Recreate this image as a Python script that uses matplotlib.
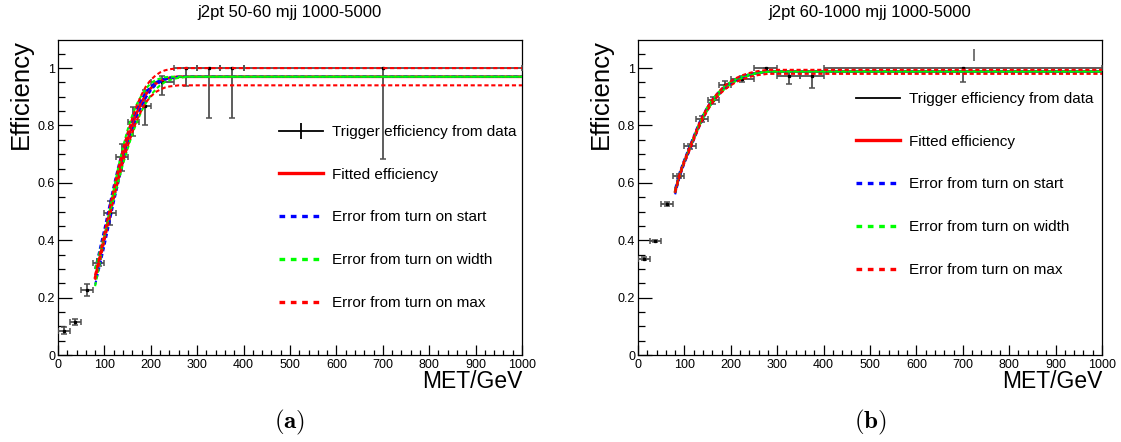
import matplotlib
matplotlib.use("Agg")
import matplotlib.pyplot as plt
from matplotlib.lines import Line2D
from matplotlib.ticker import MultipleLocator, FixedLocator, FixedFormatter

plt.rcParams['font.family'] = ['Liberation Sans', 'DejaVu Sans']

W, H = 1121, 442

# ---------------- data: j2pt 50-60 ----------------
titles = ["j2pt 50-60 mjj 1000-5000", "j2pt 60-1000 mjj 1000-5000"]
panel_tags = [r"$\mathbf{(a)}$", r"$\mathbf{(b)}$"]

met_centres = [12.5, 37.5, 62.5, 87.5, 112.5, 137.5, 162.5, 187.5, 225, 275, 325, 375, 700]
met_halfwidth = [12.5, 12.5, 12.5, 12.5, 12.5, 12.5, 12.5, 12.5, 25, 25, 25, 25, 300]

eff_a = [0.085, 0.115, 0.228, 0.322, 0.495, 0.689, 0.813, 0.868, 0.952, 1.0, 1.0, 1.0, 1.0]
err_lo_a = [0.012, 0.012, 0.021, 0.012, 0.041, 0.047, 0.050, 0.067, 0.046, 0.062, 0.175, 0.175, 0.317]
err_hi_a = [0.012, 0.012, 0.021, 0.012, 0.041, 0.047, 0.050, 0.055, 0.021, 0.0, 0.0, 0.0, 0.0]

fit_x_a = [80, 90, 100, 110, 120, 130, 140, 150, 160, 170, 180, 190, 200, 210,
           220, 230, 240, 250, 260, 270, 280, 1000]
fit_a = [0.27, 0.34, 0.41, 0.485, 0.56, 0.63, 0.695, 0.75, 0.80, 0.845, 0.88, 0.91,
         0.93, 0.945, 0.955, 0.962, 0.966, 0.968, 0.97, 0.97, 0.97, 0.97]
start_hi_a = [0.30, 0.37, 0.44, 0.515, 0.59, 0.658, 0.718, 0.772, 0.82, 0.86, 0.893, 0.918,
              0.936, 0.95, 0.958, 0.964, 0.967, 0.969, 0.97, 0.97, 0.97, 0.97]
start_lo_a = [0.245, 0.31, 0.38, 0.455, 0.53, 0.60, 0.67, 0.73, 0.78, 0.83, 0.866, 0.898,
              0.922, 0.94, 0.951, 0.959, 0.964, 0.967, 0.969, 0.97, 0.97, 0.97]
width_hi_a = [0.24, 0.32, 0.405, 0.49, 0.575, 0.655, 0.725, 0.785, 0.835, 0.875, 0.905, 0.93,
              0.947, 0.958, 0.964, 0.968, 0.97, 0.97, 0.97, 0.97, 0.97, 0.97]
width_lo_a = [0.30, 0.36, 0.42, 0.483, 0.545, 0.605, 0.665, 0.718, 0.77, 0.812, 0.85, 0.88,
              0.905, 0.925, 0.94, 0.951, 0.958, 0.963, 0.966, 0.968, 0.97, 0.97]
max_hi_a = [0.278, 0.351, 0.423, 0.50, 0.577, 0.65, 0.717, 0.773, 0.825, 0.871, 0.907, 0.938,
            0.959, 0.974, 0.985, 0.992, 0.996, 0.998, 1.0, 1.0, 1.0, 1.0]
max_lo_a = [0.262, 0.329, 0.397, 0.47, 0.543, 0.61, 0.673, 0.727, 0.775, 0.819, 0.853, 0.882,
            0.901, 0.916, 0.925, 0.932, 0.936, 0.938, 0.94, 0.94, 0.94, 0.94]

# ---------------- data: j2pt 60-1000 ----------------
eff_b = [0.336, 0.398, 0.526, 0.624, 0.727, 0.823, 0.888, 0.942, 0.962, 1.0, 0.971, 0.971, 1.0]
err_lo_b = [0.005, 0.004, 0.006, 0.008, 0.010, 0.010, 0.012, 0.012, 0.012, 0.010, 0.028, 0.040, 0.050]
err_hi_b = [0.005, 0.004, 0.006, 0.008, 0.010, 0.010, 0.012, 0.012, 0.012, 0.0, 0.017, 0.017, 0.0]
extra_x_b = [725]
extra_y_b = [1.046]
extra_err_b = [0.022]

fit_x_b = [80, 90, 100, 110, 120, 130, 140, 150, 160, 170, 180, 190, 200, 210,
           220, 230, 240, 250, 260, 270, 280, 290, 1000]
fit_b = [0.57, 0.63, 0.675, 0.715, 0.755, 0.795, 0.83, 0.86, 0.885, 0.905, 0.922, 0.937,
         0.948, 0.958, 0.966, 0.972, 0.977, 0.981, 0.984, 0.986, 0.988, 0.988, 0.988]
start_hi_b = [0.58, 0.638, 0.682, 0.723, 0.763, 0.803, 0.837, 0.866, 0.89, 0.91, 0.926, 0.94,
              0.951, 0.961, 0.968, 0.974, 0.978, 0.982, 0.985, 0.987, 0.988, 0.988, 0.988]
start_lo_b = [0.56, 0.622, 0.668, 0.708, 0.748, 0.788, 0.823, 0.854, 0.88, 0.90, 0.918, 0.934,
              0.945, 0.955, 0.964, 0.970, 0.975, 0.98, 0.983, 0.985, 0.987, 0.988, 0.988]
width_hi_b = [0.565, 0.627, 0.673, 0.715, 0.757, 0.798, 0.834, 0.865, 0.89, 0.91, 0.927, 0.941,
              0.952, 0.961, 0.968, 0.974, 0.978, 0.982, 0.985, 0.987, 0.988, 0.988, 0.988]
width_lo_b = [0.575, 0.633, 0.677, 0.716, 0.754, 0.792, 0.826, 0.855, 0.88, 0.90, 0.917, 0.932,
              0.944, 0.954, 0.962, 0.969, 0.974, 0.979, 0.982, 0.985, 0.987, 0.988, 0.988]
max_hi_b = [0.574, 0.634, 0.679, 0.719, 0.76, 0.80, 0.835, 0.865, 0.89, 0.91, 0.928, 0.943,
            0.954, 0.964, 0.972, 0.978, 0.983, 0.987, 0.99, 0.992, 0.994, 0.994, 0.994]
max_lo_b = [0.565, 0.625, 0.67, 0.709, 0.749, 0.789, 0.823, 0.853, 0.878, 0.898, 0.915, 0.929,
            0.94, 0.95, 0.958, 0.964, 0.969, 0.973, 0.976, 0.978, 0.98, 0.98, 0.98]

ytick_vals = [0, 0.2, 0.4, 0.6, 0.8, 1.0]
ytick_labels = ["0", "0.2", "0.4", "0.6", "0.8", "1"]
xtick_vals = list(range(0, 1001, 100))
legend_labels = ["Trigger efficiency from data", "Fitted efficiency",
                 "Error from turn on start", "Error from turn on width",
                 "Error from turn on max"]

RED, BLUE, GREEN = "#ff0000", "#0000ff", "#00ff00"
DATA_COL = "#505050"


def fx(px):
    return px / W


def fy(py):
    return 1 - py / H


fig = plt.figure(figsize=(W / 100, H / 100), dpi=100)

panels = [
    dict(left=58, eff=eff_a, lo=err_lo_a, hi=err_hi_a, fx_=fit_x_a, fit=fit_a,
         start=(start_hi_a, start_lo_a), width=(width_hi_a, width_lo_a),
         mx=(max_hi_a, max_lo_a), leg=(279, 130), cross=True),
    dict(left=638, eff=eff_b, lo=err_lo_b, hi=err_hi_b, fx_=fit_x_b, fit=fit_b,
         start=(start_hi_b, start_lo_b), width=(width_hi_b, width_lo_b),
         mx=(max_hi_b, max_lo_b), leg=(856, 97), cross=False),
]

ax_top, ax_bot, ax_w = 40, 355, 464
for i, p in enumerate(panels):
    ax = fig.add_axes([fx(p["left"]), fy(ax_bot), ax_w / W, (ax_bot - ax_top) / H])
    ax.set_xlim(0, 1000)
    ax.set_ylim(0, 1.098)

    # measured efficiency with asymmetric errors
    ax.errorbar(met_centres, p["eff"], xerr=met_halfwidth, yerr=[p["lo"], p["hi"]],
                fmt="s", ms=1.4, mfc="black", mec="black", ecolor=DATA_COL,
                elinewidth=1.3, capsize=2.2, capthick=1.1, zorder=3)
    if i == 1:
        ax.errorbar(extra_x_b, extra_y_b, yerr=extra_err_b, fmt="none",
                    ecolor=DATA_COL, elinewidth=1.1, capsize=0, zorder=3)

    dash = (2.0, 1.3)
    ax.plot(p["fx_"], p["fit"], color=RED, lw=2.0, zorder=4)
    for curve in p["start"]:
        ax.plot(p["fx_"], curve, color=BLUE, lw=1.5, dashes=dash, zorder=5)
    for curve in p["width"]:
        ax.plot(p["fx_"], curve, color=GREEN, lw=1.5, dashes=dash, zorder=6)
    for curve in p["mx"]:
        ax.plot(p["fx_"], curve, color=RED, lw=1.5, dashes=dash, zorder=7)

    # axes styling
    ax.xaxis.set_major_locator(FixedLocator(xtick_vals))
    ax.xaxis.set_minor_locator(MultipleLocator(20))
    ax.yaxis.set_major_locator(FixedLocator(ytick_vals))
    ax.yaxis.set_major_formatter(FixedFormatter(ytick_labels))
    ax.yaxis.set_minor_locator(MultipleLocator(0.05))
    ax.tick_params(axis="both", which="both", direction="in", top=False, right=False,
                   labelsize=9, width=0.9, colors="black")
    ax.tick_params(axis="y", which="major", length=10, pad=2)
    ax.tick_params(axis="y", which="minor", length=5)
    ax.tick_params(axis="x", which="major", length=7, pad=3)
    ax.tick_params(axis="x", which="minor", length=3.5)
    for s in ax.spines.values():
        s.set_linewidth(0.9)

    # legend
    if p["cross"]:
        data_handle = (Line2D([], [], color="black", lw=1.3),
                       Line2D([], [], color="black", marker="|", ms=12, mew=1.3, ls="none"))
    else:
        data_handle = Line2D([], [], color="black", lw=1.3)
    leg_dash = (1.7, 1.7)
    handles = [data_handle,
               Line2D([], [], color=RED, lw=2.4),
               Line2D([], [], color=BLUE, lw=2.4, dashes=leg_dash),
               Line2D([], [], color=GREEN, lw=2.4, dashes=leg_dash),
               Line2D([], [], color=RED, lw=2.4, dashes=leg_dash)]
    lx, ly = p["leg"]
    ax.legend(handles, legend_labels, loc="upper left",
              bbox_to_anchor=(fx(lx), fy(ly - 5)), bbox_transform=fig.transFigure,
              frameon=False, fontsize=11, borderpad=0, borderaxespad=0,
              handlelength=2.85, handletextpad=0.65, labelspacing=1.88)

    # titles and axis titles
    cx = p["left"] + ax_w / 2
    fig.text(fx(cx), fy(13), titles[i], ha="center", va="center", fontsize=12)
    fig.text(fx(p["left"] - 37), fy(ax_top - 1), "Efficiency", rotation=90,
             ha="center", va="top", fontsize=18.5)
    fig.text(fx(p["left"] + ax_w), fy(370), "MET/GeV", ha="right", va="top",
             fontsize=16.5)
    fig.text(fx(cx), fy(422), panel_tags[i], ha="center", va="center",
             fontsize=18, math_fontfamily="cm")

fig.savefig("out.png", dpi=100)
